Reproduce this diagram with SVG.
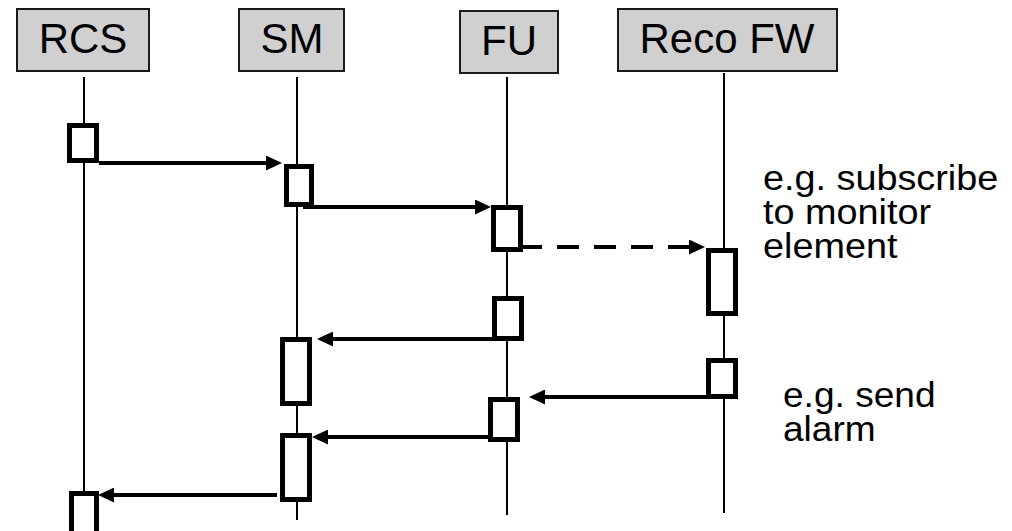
<svg xmlns="http://www.w3.org/2000/svg" width="1012" height="531" viewBox="0 0 1012 531">
  <style>
    .head rect { fill: #d0d0d0; stroke: #1a1a1a; stroke-width: 2; }
    .head text { font-family: "Liberation Sans", Arial, sans-serif; font-size: 42px; fill: #000; text-anchor: middle; }
    .life { stroke: #000; stroke-width: 2; }
    .act { fill: #fff; stroke: #000; stroke-width: 5; }
    .msg { stroke: #000; stroke-width: 4; fill: none; }
    .dash { stroke-dasharray: 22 15; }
    .note { font-family: "Liberation Sans", Arial, sans-serif; font-size: 35px; fill: #000; }
  </style>
  <defs>
    <marker id="arrow" markerUnits="userSpaceOnUse" markerWidth="16" markerHeight="15" refX="0" refY="7.5" orient="auto">
      <path d="M0,0 L16,7.5 L0,15 Z" fill="#000"/>
    </marker>
  </defs>

  <rect width="1012" height="531" fill="#fff"/>

  <!-- lifelines -->
  <g id="lifelines">
    <line class="life" x1="84" y1="77" x2="84" y2="531"/>
    <line class="life" x1="297" y1="77" x2="297" y2="520"/>
    <line class="life" x1="507" y1="77" x2="507" y2="515"/>
    <line class="life" x1="724" y1="73" x2="724" y2="513"/>
  </g>

  <!-- participants -->
  <g id="rcs" class="head">
    <rect x="17" y="9" width="132" height="62"/>
    <text x="83" y="53">RCS</text>
  </g>
  <g id="sm" class="head">
    <rect x="239" y="9" width="105" height="62"/>
    <text x="292" y="53">SM</text>
  </g>
  <g id="fu" class="head">
    <rect x="460" y="11" width="98" height="62"/>
    <text x="509" y="55">FU</text>
  </g>
  <g id="recofw" class="head">
    <rect x="618" y="9" width="219" height="62"/>
    <text x="727" y="53">Reco FW</text>
  </g>

  <!-- connectors -->
  <g id="connectors">
    <line class="msg" x1="99" y1="163" x2="266" y2="163" marker-end="url(#arrow)"/>
    <line class="msg" x1="303" y1="207" x2="475" y2="207" marker-end="url(#arrow)"/>
    <line class="msg dash" x1="520" y1="247" x2="689" y2="247" marker-end="url(#arrow)"/>
    <line class="msg" x1="495" y1="339" x2="333" y2="339" marker-end="url(#arrow)"/>
    <line class="msg" x1="706" y1="397" x2="545" y2="397" marker-end="url(#arrow)"/>
    <line class="msg" x1="488" y1="437" x2="328" y2="437" marker-end="url(#arrow)"/>
    <line class="msg" x1="277" y1="495" x2="114" y2="495" marker-end="url(#arrow)"/>
  </g>

  <!-- activations -->
  <g id="rcs-act1"><rect class="act" x="69.5" y="125.5" width="27" height="35"/></g>
  <g id="sm-act1"><rect class="act" x="286.5" y="166.5" width="25" height="38"/></g>
  <g id="fu-act1"><rect class="act" x="493.5" y="207.5" width="27" height="42"/></g>
  <g id="reco-act1"><rect class="act" x="708.5" y="250.5" width="27" height="63"/></g>
  <g id="fu-act2"><rect class="act" x="494.5" y="298.5" width="27" height="40"/></g>
  <g id="sm-act2"><rect class="act" x="282.5" y="339.5" width="27" height="64"/></g>
  <g id="reco-act2"><rect class="act" x="708.5" y="360.5" width="27" height="36"/></g>
  <g id="fu-act3"><rect class="act" x="490.5" y="399.5" width="27" height="40"/></g>
  <g id="sm-act3"><rect class="act" x="282.5" y="435.5" width="27" height="64"/></g>
  <g id="rcs-act2"><rect class="act" x="71.5" y="493.5" width="25" height="45"/></g>

  <!-- notes (slightly widened lettering) -->
  <g id="note-subscribe" transform="translate(763,0) scale(1.08,1)">
    <text class="note" x="0" y="190"><tspan x="0" y="190">e.g. subscribe</tspan><tspan x="0" y="224">to monitor</tspan><tspan x="0" y="258">element</tspan></text>
  </g>
  <g id="note-alarm" transform="translate(783,0) scale(1.06,1)">
    <text class="note" x="0" y="407"><tspan x="0" y="407">e.g. send</tspan><tspan x="0" y="441">alarm</tspan></text>
  </g>
</svg>
